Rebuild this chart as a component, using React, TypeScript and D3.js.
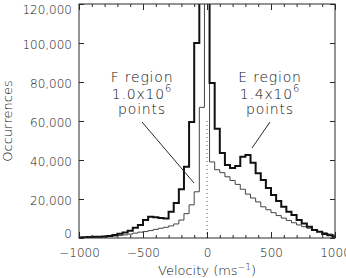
import React, { useEffect, useRef } from 'react'
import * as d3 from 'd3'

// bin centres (m/s), 40 m/s bins
const velocity = [
  -1000, -960, -920, -880, -840, -800, -760, -720, -680, -640, -600, -560, -520,
  -480, -440, -400, -360, -320, -280, -240, -200, -160, -120, -80, -40, 0,
  40, 80, 120, 160, 200, 240, 280, 320, 360, 400, 440, 480, 520, 560, 600,
  640, 680, 720, 760, 800, 840, 880, 920, 960, 1000
]

// E region counts (thick line)
const eRegion = [
  300, 400, 500, 600, 700, 800, 1000, 1500, 2200, 2800, 3700, 5300, 6700,
  9200, 10900, 10600, 10300, 10000, 13500, 18000, 25000, 36500, 59500, 100000, 300000, 320000,
  79500, 56000, 43600, 37400, 35900, 36900, 41700, 42600, 38600, 33200, 29700, 25600, 22000, 19000, 16000,
  13500, 11800, 9200, 7500, 5800, 4100, 3200, 2000, 1400, 700
]

// F region counts (thin line)
const fRegion = [
  200, 250, 300, 400, 500, 600, 800, 1000, 1300, 1600, 2000, 2500, 3000,
  3300, 3800, 4400, 5000, 5500, 6200, 7200, 9200, 12500, 17000, 23700, 67000, 400000,
  39000, 35000, 33500, 31400, 29500, 27500, 25000, 22500, 20500, 18500, 16000, 14500, 13000, 11500, 10200,
  9000, 7800, 6700, 5800, 5000, 4100, 3300, 2700, 2000, 1500
]

const yTicks = [0, 20000, 40000, 60000, 80000, 100000, 120000]
const xTicks = [-1000, -500, 0, 500, 1000]
const xMinorTicks = [-900, -800, -700, -600, -400, -300, -200, -100, 100, 200, 300, 400, 600, 700, 800, 900]

const width = 346
const height = 278
const margin = { top: 4, right: 11, bottom: 40, left: 79 }
const font = 'DejaVu Sans'
const ink = '#2a2a2a'
const textInk = '#111'

const App = () => {
  const ref = useRef(null)

  const x = d3.scaleLinear()
    .domain([-1000, 1000])
    .range([margin.left, width - margin.right])

  const y = d3.scaleLinear()
    .domain([0, 120000])
    .range([height - margin.bottom, margin.top])

  useEffect(() => {
    document.body.style.margin = '0'
    const svg = d3.select(ref.current)
    svg.selectAll('*').remove()

    svg.append('clipPath').attr('id', 'plot-clip')
      .append('rect')
      .attr('x', x(-1000)).attr('y', y(120000))
      .attr('width', x(1000) - x(-1000)).attr('height', y(0) - y(120000))

    const step = d3.line()
      .x(d => x(d[0]))
      .y(d => y(d[1]))
      .curve(d3.curveStep)

    const plot = svg.append('g').attr('clip-path', 'url(#plot-clip)')

    plot.append('path')
      .attr('d', step(velocity.map((v, i) => [v, fRegion[i]])))
      .attr('fill', 'none').attr('stroke', '#444').attr('stroke-width', 1)

    plot.append('path')
      .attr('d', step(velocity.map((v, i) => [v, eRegion[i]])))
      .attr('fill', 'none').attr('stroke', '#111').attr('stroke-width', 2)

    // zero-velocity marker
    svg.append('line')
      .attr('x1', x(0)).attr('x2', x(0))
      .attr('y1', y(0)).attr('y2', y(60000))
      .attr('stroke', '#555').attr('stroke-width', 1)
      .attr('stroke-dasharray', '1,3')

    // axes, ticks pointing inward on all four sides
    const yAxis = g => g
      .attr('transform', `translate(${margin.left},0)`)
      .call(d3.axisLeft(y).tickValues(yTicks).tickFormat(d3.format(','))
        .tickSizeInner(-5).tickSizeOuter(0).tickPadding(7))
      // keep the end labels inside the axis span
      .call(g => g.selectAll('.tick text')
        .attr('dy', d => d === 120000 ? '0.75em' : d === 0 ? '-0.05em' : '0.42em'))

    const yAxisRight = g => g
      .attr('transform', `translate(${width - margin.right},0)`)
      .call(d3.axisRight(y).tickValues(yTicks).tickFormat(() => '')
        .tickSizeInner(-5).tickSizeOuter(0))

    const xAxis = g => g
      .attr('transform', `translate(0,${height - margin.bottom})`)
      .call(d3.axisBottom(x).tickValues(xTicks).tickFormat(d3.format('d'))
        .tickSizeInner(-6).tickSizeOuter(0).tickPadding(10))

    const xAxisMinor = g => g
      .attr('transform', `translate(0,${height - margin.bottom})`)
      .call(d3.axisBottom(x).tickValues(xMinorTicks).tickFormat(() => '')
        .tickSizeInner(-3).tickSizeOuter(0))

    const xAxisTop = g => g
      .attr('transform', `translate(0,${margin.top})`)
      .call(d3.axisTop(x).tickValues(xTicks).tickFormat(() => '')
        .tickSizeInner(-6).tickSizeOuter(0))

    const xAxisTopMinor = g => g
      .attr('transform', `translate(0,${margin.top})`)
      .call(d3.axisTop(x).tickValues(xMinorTicks).tickFormat(() => '')
        .tickSizeInner(-3).tickSizeOuter(0))

    ;[yAxis, yAxisRight, xAxis, xAxisMinor, xAxisTop, xAxisTopMinor].forEach(fn => {
      svg.append('g').call(fn)
    })

    svg.selectAll('.domain').remove()
    svg.selectAll('.tick line').attr('stroke', ink)
    svg.selectAll('.tick text')
      .attr('font-family', font).attr('font-size', 12).attr('font-weight', 300).attr('fill', textInk)

    svg.append('rect')
      .attr('x', x(-1000)).attr('y', y(120000))
      .attr('width', x(1000) - x(-1000)).attr('height', y(0) - y(120000))
      .attr('fill', 'none').attr('stroke', ink).attr('stroke-width', 1)

    // axis titles
    svg.append('text')
      .attr('transform', `translate(12,${y(60000)}) rotate(-90)`)
      .attr('text-anchor', 'middle')
      .attr('font-family', font).attr('font-size', 13).attr('font-weight', 300).attr('fill', textInk)
      .text('Occurrences')

    const xt = svg.append('text')
      .attr('x', x(0)).attr('y', 275)
      .attr('text-anchor', 'middle')
      .attr('font-family', font).attr('font-size', 13).attr('font-weight', 300).attr('fill', textInk)
    xt.append('tspan').text('Velocity (ms')
    xt.append('tspan').attr('dy', -5).attr('font-size', 9).text('\u22121')
    xt.append('tspan').attr('dy', 5).text(')')

    // region annotations
    const annotate = (cx, name, count, from, to) => {
      const g = svg.append('g')
        .attr('font-family', font).attr('font-size', 14).attr('font-weight', 300).attr('fill', textInk)
        .attr('text-anchor', 'middle').attr('letter-spacing', 0.8)
      g.append('text').attr('x', cx).attr('y', 82).text(name)
      const t = g.append('text').attr('x', cx).attr('y', 99)
      t.append('tspan').text(count + 'x10')
      t.append('tspan').attr('dy', -7).attr('font-size', 10).text('6')
      g.append('text').attr('x', cx).attr('y', 114).text('points')
      svg.append('line')
        .attr('x1', from[0]).attr('y1', from[1])
        .attr('x2', to[0]).attr('y2', to[1])
        .attr('stroke', ink).attr('stroke-width', 1)
    }

    annotate(142, 'F region', '1.0', [142, 122], [194, 183])
    annotate(270, 'E region', '1.4', [270, 122], [252, 148])
  }, [x, y])

  return (
    <svg ref={ref} width={width} height={height}
      style={{ display: 'block', background: '#fff' }} />
  )
}

export default App
